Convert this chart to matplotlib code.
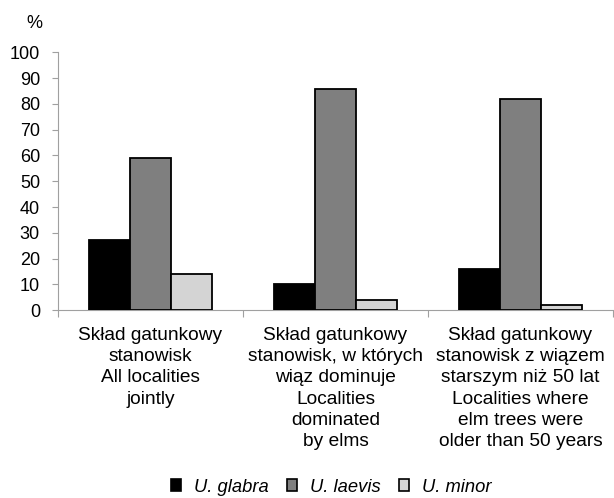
import numpy as np
import matplotlib.pyplot as plt
from matplotlib.patches import Patch

plt.rcParams['font.family'] = ['Liberation Sans', 'DejaVu Sans']

# dane - udzial gatunkow wiazow (%)
grupy = [
    "Skład gatunkowy\nstanowisk\nAll localities\njointly",
    "Skład gatunkowy\nstanowisk, w których\nwiąz dominuje\nLocalities\ndominated\nby elms",
    "Skład gatunkowy\nstanowisk z wiązem\nstarszym niż 50 lat\nLocalities where\nelm trees were\nolder than 50 years",
]
gatunki = ["U. glabra", "U. laevis", "U. minor"]
glabra = [27, 10, 16]
laevis = [59, 86, 82]
minor = [14, 4, 2]
kolory = ["#000000", "#7f7f7f", "#d4d4d4"]

fig = plt.figure(figsize=(6.14, 4.98), dpi=100)
ax = fig.add_axes([58/614, 188/498, 555/614, 257.5/498])

x = np.arange(len(grupy))
szer = 0.222
for i, (wart, kol) in enumerate(zip([glabra, laevis, minor], kolory)):
    ax.bar(x + (i - 1) * szer, wart, szer, color=kol, edgecolor="black", linewidth=1.3, zorder=3)

ax.set_xlim(-0.5, 2.5)
ax.set_ylim(0, 100)
ax.set_yticks(range(0, 101, 10))
ax.tick_params(axis="y", labelsize=13, length=4, color="#a0a0a0", pad=9)
ax.set_xticks([-0.5, 0.5, 1.5, 2.5])
ax.set_xticklabels([])
ax.tick_params(axis="x", length=5, color="#a0a0a0", direction="out")
for s in ["top", "right"]:
    ax.spines[s].set_visible(False)
ax.spines["left"].set_color("#a0a0a0")
ax.spines["bottom"].set_color("#a0a0a0")

# podpisy grup pod osia
for xi, tekst in zip(x, grupy):
    ax.text(xi, -0.065, tekst, transform=ax.get_xaxis_transform(), ha="center", va="top",
            fontsize=13.8, linespacing=1.33)

fig.text(26/614, 1 - 23/498, "%", fontsize=13, va="center", ha="left")

uchwyty = [Patch(facecolor=k, edgecolor="black", linewidth=1.2) for k in kolory]
leg = fig.legend(uchwyty, gatunki, loc="center", bbox_to_anchor=(331/614, 1 - 487/498), ncol=3,
                 frameon=False, prop={"style": "italic", "size": 13.2}, handlelength=0.55, handleheight=0.55,
                 handletextpad=0.7, columnspacing=1.0)

fig.savefig("out.png", dpi=100)
